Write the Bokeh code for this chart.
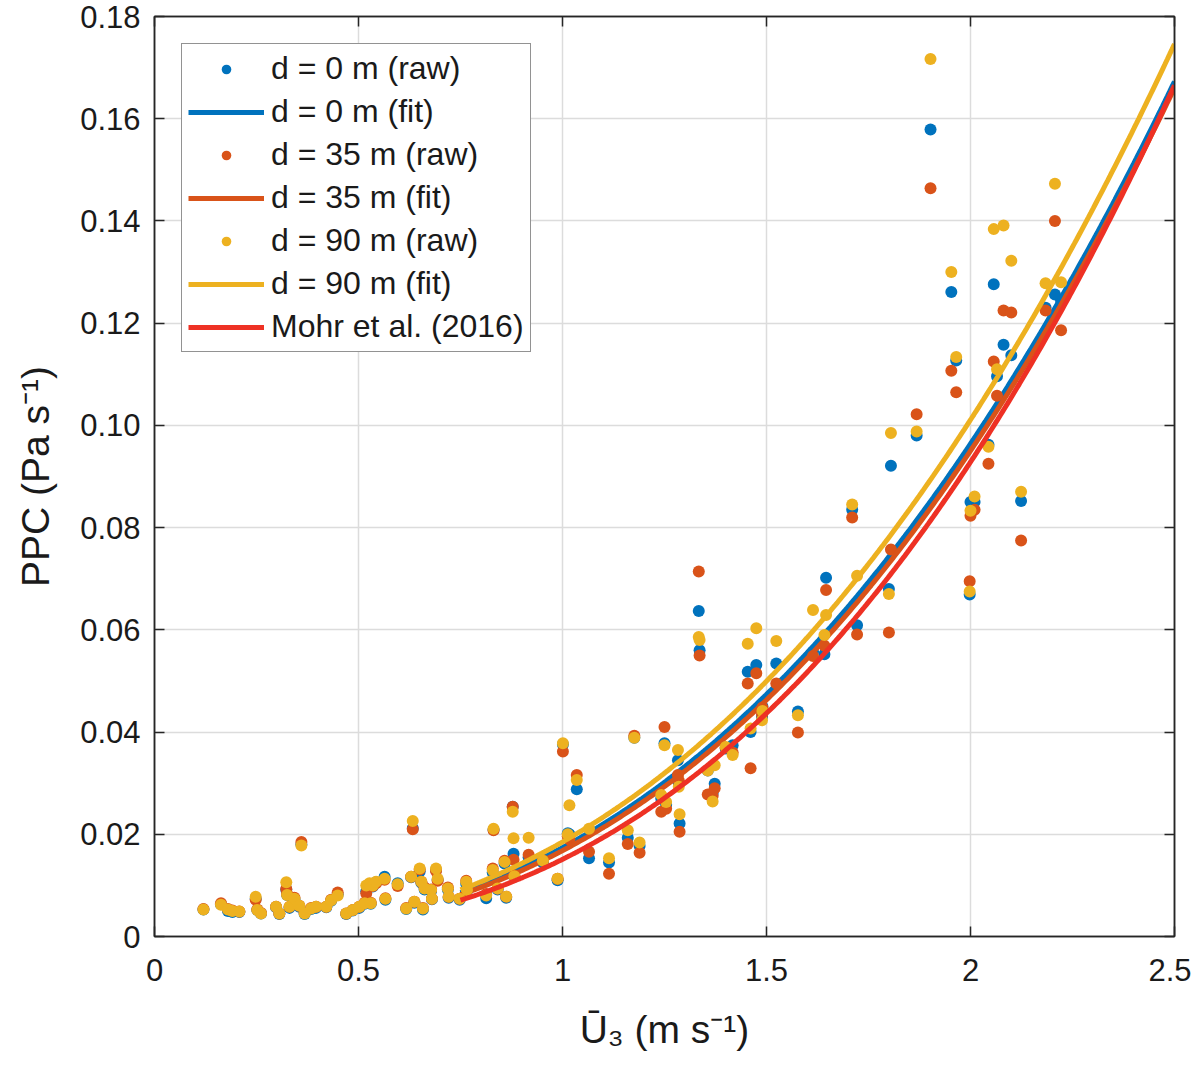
import numpy as np
from bokeh.plotting import figure
from bokeh.models import (LinearAxis, FixedTicker, CustomJSTickFormatter, Legend,
                          LegendItem, Range1d, ColumnDataSource)
from bokeh.embed import file_html
from bokeh.resources import INLINE

# ---------------- data ----------------
U3 = [0.120, 0.163, 0.180, 0.191, 0.208, 0.248, 0.252, 0.261, 0.298, 0.306,
      0.323, 0.325, 0.331, 0.343, 0.355, 0.360, 0.368, 0.384, 0.396, 0.421,
      0.433, 0.449, 0.470, 0.486, 0.502, 0.515, 0.519, 0.527, 0.530, 0.535,
      0.543, 0.564, 0.566, 0.596, 0.617, 0.629, 0.633, 0.637, 0.650, 0.654,
      0.658, 0.662, 0.678, 0.680, 0.690, 0.694, 0.719, 0.721, 0.748, 0.764,
      0.766, 0.813, 0.829, 0.831, 0.841, 0.858, 0.862, 0.878, 0.880, 0.882,
      0.917, 0.952, 0.988, 1.001, 1.013, 1.017, 1.035, 1.065, 1.114, 1.160,
      1.176, 1.189, 1.242, 1.250, 1.254, 1.283, 1.285, 1.287, 1.334, 1.336,
      1.356, 1.368, 1.373, 1.400, 1.417, 1.454, 1.461, 1.475, 1.489, 1.490,
      1.524, 1.577, 1.614, 1.642, 1.646, 1.710, 1.722, 1.800, 1.805, 1.868,
      1.902, 1.953, 1.965, 1.998, 2.000, 2.010, 2.044, 2.057, 2.065, 2.081,
      2.100, 2.124, 2.184, 2.207, 2.222]

PPC_D0 = [0.0053, 0.0063, 0.0050, 0.0048, 0.0048, 0.0074, 0.0052, 0.0045, 0.0057, 0.0044,
          0.0092, 0.0081, 0.0056, 0.0073, 0.0058, 0.0180, 0.0044, 0.0054, 0.0056, 0.0057,
          0.0070, 0.0082, 0.0044, 0.0051, 0.0056, 0.0064, 0.0088, 0.0102, 0.0064, 0.0098,
          0.0106, 0.0117, 0.0072, 0.0104, 0.0054, 0.0116, 0.0212, 0.0066, 0.0127, 0.0105,
          0.0053, 0.0092, 0.0089, 0.0073, 0.0130, 0.0111, 0.0092, 0.0076, 0.0072, 0.0103,
          0.0089, 0.0075, 0.0125, 0.0209, 0.0092, 0.0143, 0.0076, 0.0254, 0.0162, 0.0117,
          0.0155, 0.0145, 0.0110, 0.0376, 0.0202, 0.0200, 0.0288, 0.0153, 0.0145, 0.0193,
          0.0389, 0.0177, 0.0270, 0.0378, 0.0258, 0.0345, 0.0300, 0.0221, 0.0637, 0.0560,
          0.0325, 0.0280, 0.0299, 0.0368, 0.0374, 0.0518, 0.0400, 0.0531, 0.0430, 0.0450,
          0.0534, 0.0440, 0.0557, 0.0552, 0.0702, 0.0835, 0.0609, 0.0680, 0.0921, 0.0980,
          0.1579, 0.1261, 0.1127, 0.0669, 0.0850, 0.0850, 0.0962, 0.1276, 0.1096, 0.1158,
          0.1137, 0.0852, 0.1230, 0.1256, 0.1244]

PPC_D35 = [0.0054, 0.0065, 0.0054, 0.0051, 0.0049, 0.0072, 0.0053, 0.0046, 0.0058, 0.0045,
           0.0093, 0.0083, 0.0058, 0.0076, 0.0060, 0.0185, 0.0046, 0.0056, 0.0058, 0.0058,
           0.0072, 0.0086, 0.0045, 0.0052, 0.0058, 0.0066, 0.0084, 0.0100, 0.0066, 0.0099,
           0.0104, 0.0111, 0.0075, 0.0099, 0.0056, 0.0117, 0.0210, 0.0068, 0.0131, 0.0107,
           0.0056, 0.0096, 0.0092, 0.0074, 0.0128, 0.0109, 0.0096, 0.0078, 0.0074, 0.0109,
           0.0091, 0.0083, 0.0133, 0.0208, 0.0094, 0.0148, 0.0078, 0.0254, 0.0150, 0.0120,
           0.0160, 0.0149, 0.0113, 0.0362, 0.0196, 0.0190, 0.0316, 0.0166, 0.0123, 0.0181,
           0.0393, 0.0164, 0.0244, 0.0410, 0.0250, 0.0316, 0.0305, 0.0205, 0.0714, 0.0550,
           0.0278, 0.0275, 0.0290, 0.0370, 0.0360, 0.0495, 0.0329, 0.0515, 0.0435, 0.0448,
           0.0495, 0.0399, 0.0549, 0.0569, 0.0678, 0.0820, 0.0591, 0.0595, 0.0757, 0.1022,
           0.1464, 0.1107, 0.1065, 0.0695, 0.0823, 0.0835, 0.0925, 0.1125, 0.1058, 0.1225,
           0.1221, 0.0775, 0.1225, 0.1400, 0.1186]

PPC_D90 = [0.0053, 0.0062, 0.0053, 0.0050, 0.0049, 0.0078, 0.0052, 0.0045, 0.0058, 0.0045,
           0.0106, 0.0081, 0.0058, 0.0074, 0.0060, 0.0178, 0.0045, 0.0055, 0.0058, 0.0058,
           0.0071, 0.0080, 0.0045, 0.0052, 0.0058, 0.0065, 0.0100, 0.0104, 0.0065, 0.0100,
           0.0107, 0.0113, 0.0074, 0.0102, 0.0055, 0.0117, 0.0226, 0.0068, 0.0133, 0.0107,
           0.0055, 0.0094, 0.0091, 0.0074, 0.0133, 0.0113, 0.0094, 0.0078, 0.0074, 0.0107,
           0.0091, 0.0080, 0.0130, 0.0211, 0.0094, 0.0146, 0.0078, 0.0244, 0.0192, 0.0118,
           0.0193, 0.0148, 0.0113, 0.0378, 0.0200, 0.0257, 0.0306, 0.0211, 0.0153, 0.0208,
           0.0389, 0.0184, 0.0277, 0.0374, 0.0263, 0.0365, 0.0293, 0.0239, 0.0586, 0.0580,
           0.0325, 0.0264, 0.0335, 0.0371, 0.0355, 0.0573, 0.0407, 0.0603, 0.0423, 0.0441,
           0.0578, 0.0433, 0.0639, 0.0590, 0.0629, 0.0845, 0.0706, 0.0670, 0.0985, 0.0988,
           0.1717, 0.1300, 0.1134, 0.0675, 0.0833, 0.0861, 0.0958, 0.1384, 0.1110, 0.1391,
           0.1322, 0.0870, 0.1278, 0.1473, 0.1280]

SERIES_LABELS = ["d = 0 m", "d = 35 m", "d = 90 m"]
# power-law fits PPC = a * U^b
FIT_A = [0.0174, 0.0168, 0.0185]
FIT_B = [2.47, 2.50, 2.45]
MOHR_LABEL = "Mohr et al. (2016)"
MOHR_A = 0.0151
MOHR_B = 2.62
FIT_U_RANGE = [0.75, 2.5]

X_TICKS = [0, 0.5, 1, 1.5, 2, 2.5]
Y_TICKS = [0, 0.02, 0.04, 0.06, 0.08, 0.10, 0.12, 0.14, 0.16, 0.18]

# ---------------- styling ----------------
COLORS = ["#0072BD", "#D95319", "#EDB120"]
MOHR_COLOR = "#EE3124"
FONT = "Liberation Sans"
AX_COLOR = "#262626"
TEXT_COLOR = "#1a1a1a"

p = figure(frame_width=1020, frame_height=920,
           x_range=Range1d(0, 2.5), y_range=Range1d(0, 0.18),
           output_backend="svg", toolbar_location=None,
           min_border_left=154, min_border_right=17,
           min_border_top=16, min_border_bottom=130)
p.background_fill_color = "white"
p.border_fill_color = "white"
p.outline_line_color = AX_COLOR
p.outline_line_width = 1.5

# grid
p.xgrid.ticker = FixedTicker(ticks=X_TICKS)
p.ygrid.ticker = FixedTicker(ticks=Y_TICKS)
p.grid.grid_line_color = "#dcdcdc"
p.grid.grid_line_width = 1.5

xfmt = CustomJSTickFormatter(code="return String(Math.round(tick*10)/10);")
yfmt = CustomJSTickFormatter(code="return tick == 0 ? '0' : tick.toFixed(2);")
blank = CustomJSTickFormatter(code="return '';")


def style_axis(ax):
    ax.axis_line_color = AX_COLOR
    ax.axis_line_width = 1.5
    ax.major_tick_line_color = AX_COLOR
    ax.major_tick_line_width = 1.5
    ax.major_tick_in = 10
    ax.major_tick_out = 0
    ax.minor_tick_line_color = None
    ax.major_label_text_font = FONT
    ax.major_label_text_font_size = "31px"
    ax.major_label_text_color = TEXT_COLOR
    ax.axis_label_text_font = FONT
    ax.axis_label_text_font_size = "39px"
    ax.axis_label_text_font_style = "normal"
    ax.axis_label_text_color = TEXT_COLOR


xa = p.xaxis[0]
xa.ticker = FixedTicker(ticks=X_TICKS)
xa.formatter = xfmt
style_axis(xa)
xa.major_label_standoff = 22
xa.axis_label = "Ū₃ (m s⁻¹)"
xa.axis_label_standoff = 24

ya = p.yaxis[0]
ya.ticker = FixedTicker(ticks=Y_TICKS)
ya.formatter = yfmt
style_axis(ya)
ya.major_label_standoff = 14
ya.axis_label = "PPC (Pa s⁻¹)"
ya.axis_label_standoff = 20

top = LinearAxis(ticker=FixedTicker(ticks=X_TICKS), formatter=blank)
style_axis(top)
top.major_label_standoff = 0
p.add_layout(top, "above")

right = LinearAxis(ticker=FixedTicker(ticks=Y_TICKS), formatter=blank)
style_axis(right)
right.major_label_standoff = 0
p.add_layout(right, "right")

# ---------------- glyphs ----------------
u_fit = np.linspace(FIT_U_RANGE[0], FIT_U_RANGE[1], 300)
items = []
for lab, vals, col, a, b in zip(SERIES_LABELS, [PPC_D0, PPC_D35, PPC_D90], COLORS, FIT_A, FIT_B):
    src = ColumnDataSource(dict(x=U3, y=vals))
    r_raw = p.scatter("x", "y", source=src, size=12, fill_color=col, line_color=None)
    fsrc = ColumnDataSource(dict(x=u_fit, y=a * u_fit ** b))
    r_fit = p.line("x", "y", source=fsrc, line_color=col, line_width=5)
    items.append(LegendItem(label=lab + " (raw)", renderers=[r_raw]))
    items.append(LegendItem(label=lab + " (fit)", renderers=[r_fit]))

msrc = ColumnDataSource(dict(x=u_fit, y=MOHR_A * u_fit ** MOHR_B))
r_mohr = p.line("x", "y", source=msrc, line_color=MOHR_COLOR, line_width=5)
items.append(LegendItem(label=MOHR_LABEL, renderers=[r_mohr]))

legend = Legend(items=items, location="top_left", margin=27, padding=6, spacing=6,
                glyph_width=76, glyph_height=24, label_height=37, label_standoff=7,
                label_text_font=FONT, label_text_font_size="32px",
                label_text_color=TEXT_COLOR, border_line_color=AX_COLOR,
                border_line_width=1.5, background_fill_color="white",
                background_fill_alpha=1.0)
p.add_layout(legend)

open("out.html", "w").write(file_html(p, INLINE))
